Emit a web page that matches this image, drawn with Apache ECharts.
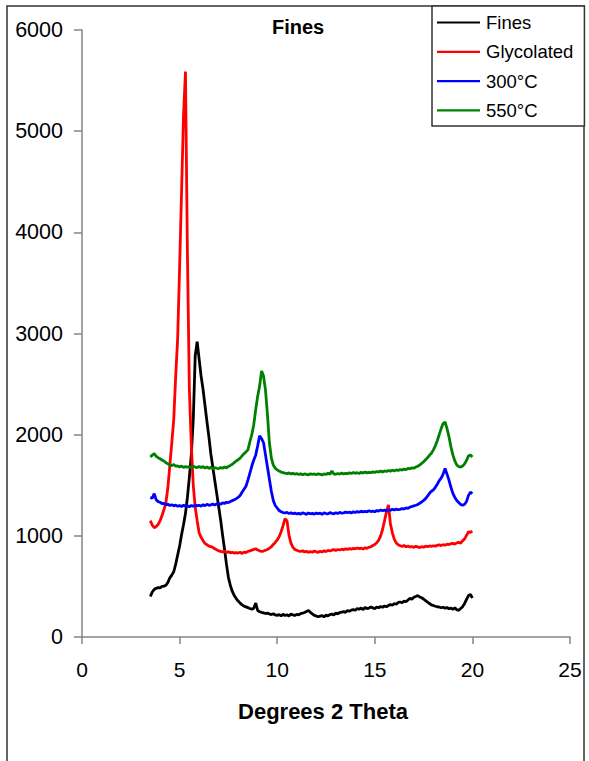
<!DOCTYPE html>
<html>
<head>
<meta charset="utf-8">
<script src="https://cdn.jsdelivr.net/npm/echarts@6/dist/echarts.min.js"></script>
<style>
  html, body { margin: 0; padding: 0; background: #fff; }
  #chart { width: 589px; height: 761px; }
</style>
</head>
<body>
<div id="chart"></div>
<script>
// Diffraction scan, degrees 2-theta (0.1 step)
const twoTheta = [
  3.5, 3.6, 3.7, 3.8, 3.9,
  4.0, 4.1, 4.2, 4.3, 4.4, 4.5, 4.6, 4.7, 4.8, 4.9,
  5.0, 5.1, 5.2, 5.3, 5.4, 5.5, 5.6, 5.7, 5.8, 5.9,
  6.0, 6.1, 6.2, 6.3, 6.4, 6.5, 6.6, 6.7, 6.8, 6.9,
  7.0, 7.1, 7.2, 7.3, 7.4, 7.5, 7.6, 7.7, 7.8, 7.9,
  8.0, 8.1, 8.2, 8.3, 8.4, 8.5, 8.6, 8.7, 8.8, 8.9,
  9.0, 9.1, 9.2, 9.3, 9.4, 9.5, 9.6, 9.7, 9.8, 9.9,
  10.0, 10.1, 10.2, 10.3, 10.4, 10.5, 10.6, 10.7, 10.8, 10.9,
  11.0, 11.1, 11.2, 11.3, 11.4, 11.5, 11.6, 11.7, 11.8, 11.9,
  12.0, 12.1, 12.2, 12.3, 12.4, 12.5, 12.6, 12.7, 12.8, 12.9,
  13.0, 13.1, 13.2, 13.3, 13.4, 13.5, 13.6, 13.7, 13.8, 13.9,
  14.0, 14.1, 14.2, 14.3, 14.4, 14.5, 14.6, 14.7, 14.8, 14.9,
  15.0, 15.1, 15.2, 15.3, 15.4, 15.5, 15.6, 15.7, 15.8, 15.9,
  16.0, 16.1, 16.2, 16.3, 16.4, 16.5, 16.6, 16.7, 16.8, 16.9,
  17.0, 17.1, 17.2, 17.3, 17.4, 17.5, 17.6, 17.7, 17.8, 17.9,
  18.0, 18.1, 18.2, 18.3, 18.4, 18.5, 18.6, 18.7, 18.8, 18.9,
  19.0, 19.1, 19.2, 19.3, 19.4, 19.5, 19.6, 19.7, 19.8, 19.9,
  20.0
];

const fines = [
  400, 445, 470, 482, 488,
  486, 500, 503, 512, 540, 585, 612, 645, 720, 810,
  900, 1010, 1110, 1220, 1380, 1580, 1800, 2150, 2780, 2920,
  2750, 2580, 2450, 2290, 2130, 1980, 1810, 1680, 1550, 1420,
  1290, 1160, 1010, 870, 720, 590, 510, 450, 410, 380,
  355, 335, 318, 305, 298, 290, 282, 275, 285, 335,
  262, 250, 243, 238, 232, 236, 228, 222, 230, 218,
  214, 222, 209, 224, 213, 220, 208, 226, 219, 212,
  224, 218, 232, 236, 242, 252, 262, 244, 228, 214,
  208, 200, 206, 212, 199, 216, 209, 221, 226, 218,
  236, 229, 242, 246, 251, 244, 262, 254, 266, 271,
  264, 282, 274, 287, 270, 292, 281, 286, 296, 288,
  281, 297, 289, 302, 294, 306, 299, 312, 322, 314,
  331, 324, 342, 346, 338, 356, 349, 366, 382, 374,
  392, 401, 410, 396, 388, 374, 360, 344, 331, 318,
  311, 304, 299, 296, 289, 294, 284, 291, 279, 286,
  274, 289, 270, 264, 281, 300, 332, 372, 410, 420,
  385
];

const glycolated = [
  1150, 1105, 1080, 1092, 1112,
  1150, 1200, 1260, 1330, 1480, 1700, 1920, 2150, 2580, 2950,
  3650, 4400, 5150, 5590, 3800, 2450, 1900, 1500, 1280, 1150,
  1030, 985, 955, 925, 912, 898, 893, 886, 872, 862,
  851, 846, 840, 848, 836, 842, 832, 838, 829, 835,
  830, 838, 826, 840, 834, 846, 852, 858, 866, 872,
  860, 852, 846, 850, 858, 865, 878, 892, 915, 935,
  960, 990, 1040, 1100, 1170, 1150, 1010, 930, 888, 866,
  858, 850, 846, 852, 840, 848, 836, 845, 838, 850,
  842, 836, 848, 840, 852, 844, 856, 850, 858, 864,
  856, 865, 860, 868, 862, 871, 866, 874, 868, 876,
  872, 880, 874, 878, 870, 882, 876, 888, 892, 904,
  915, 932, 958, 1000, 1065, 1150, 1240, 1305, 1120, 1030,
  965, 930, 912, 902, 896, 904, 892, 898, 890, 894,
  886, 896, 890, 884, 893, 888, 898, 892, 900, 896,
  902, 898, 906, 910, 904, 912, 908, 918, 914, 922,
  926, 918, 930, 936, 928, 952, 970, 1005, 1040, 1035,
  1045
];

const heated300 = [
  1380, 1372, 1418, 1356, 1338,
  1332, 1318, 1322, 1306, 1312, 1300, 1308, 1296, 1304, 1292,
  1300, 1290, 1302, 1294, 1298, 1288, 1300, 1292, 1305, 1296,
  1302, 1294, 1308, 1298, 1312, 1302, 1306, 1314, 1304, 1316,
  1320, 1312, 1326, 1320, 1332, 1328, 1340, 1348, 1356, 1368,
  1380, 1398, 1430, 1460, 1490, 1550, 1620, 1690, 1750, 1800,
  1890, 1990, 1960, 1920, 1800, 1680, 1560, 1440, 1350, 1300,
  1275, 1250, 1238, 1230, 1226, 1232, 1220, 1228, 1218, 1226,
  1216, 1224, 1214, 1228, 1220, 1212, 1226, 1218, 1222, 1214,
  1226, 1218, 1224, 1212, 1228, 1220, 1216, 1230, 1222, 1218,
  1228, 1220, 1232, 1224, 1226, 1236, 1228, 1234, 1226, 1238,
  1230, 1240, 1234, 1244, 1236, 1242, 1238, 1248, 1240, 1244,
  1238, 1250, 1244, 1256, 1248, 1254, 1250, 1258, 1252, 1262,
  1256, 1264, 1258, 1262, 1270, 1266, 1276, 1272, 1284, 1290,
  1296, 1302, 1310, 1322, 1334, 1350, 1368, 1392, 1420, 1440,
  1455, 1480, 1510, 1545, 1570, 1610, 1665, 1610, 1550, 1480,
  1420, 1380, 1350, 1330, 1310, 1302, 1312, 1340, 1400, 1432,
  1418
];

const heated550 = [
  1780, 1798, 1812, 1786, 1772,
  1762, 1748, 1740, 1722, 1712, 1700, 1694, 1706, 1688, 1692,
  1680, 1690, 1676, 1686, 1678, 1684, 1672, 1688, 1680, 1674,
  1686, 1676, 1684, 1670, 1682, 1666, 1678, 1662, 1674, 1668,
  1664, 1676, 1668, 1680, 1672, 1686, 1696, 1708, 1724, 1740,
  1752, 1768, 1790, 1812, 1830, 1850, 1930, 2000, 2100, 2250,
  2380, 2480, 2630, 2580, 2440, 2200, 1920, 1770, 1700, 1668,
  1652, 1640, 1630, 1624, 1620, 1614, 1622, 1612, 1618, 1608,
  1616, 1606, 1614, 1604, 1612, 1608, 1602, 1614, 1606, 1612,
  1604, 1614, 1608, 1602, 1612, 1606, 1618, 1610, 1640, 1612,
  1608, 1616, 1610, 1620, 1612, 1618, 1614, 1622, 1616, 1626,
  1618, 1624, 1616, 1628, 1620, 1630, 1622, 1628, 1624, 1634,
  1626, 1636, 1630, 1640, 1632, 1642, 1636, 1646, 1640, 1648,
  1642, 1652, 1646, 1656, 1650, 1660, 1654, 1666, 1662, 1672,
  1668, 1680, 1688, 1700, 1716, 1732, 1752, 1772, 1796, 1816,
  1850, 1890, 1940, 2000, 2060, 2110, 2125, 2060, 1980, 1880,
  1800, 1740, 1700, 1684, 1680, 1690, 1712, 1745, 1790, 1800,
  1780
];

const seriesNames = ['Fines', 'Glycolated', '300°C', '550°C'];
const seriesValues = [fines, glycolated, heated300, heated550];
const seriesColors = ['#000000', '#ff0000', '#0000ff', '#008000'];

const xTicks = { min: 0, max: 25, step: 5 };
const yTicks = { min: 0, max: 6000, step: 1000 };

const chart = echarts.init(document.getElementById('chart'), null, { renderer: 'svg' });

const axisGray = '#858585';
const font = 'Liberation Sans, Arial, sans-serif';

chart.setOption({
  animation: false,
  backgroundColor: '#ffffff',
  title: {
    text: 'Fines',
    left: 272,
    top: 17,
    padding: 0,
    textStyle: { fontFamily: font, fontSize: 20, fontWeight: 'bold', color: '#000' }
  },
  legend: {
    orient: 'vertical',
    left: 432,
    top: 6,
    padding: [7, 11, 6, 5],
    itemGap: 10.3,
    itemWidth: 43,
    itemHeight: 19,
    // plain line sample, no marker
    icon: 'path://M0,0 L43,0 L43,2.2 L0,2.2 Z',
    borderColor: '#333',
    borderWidth: 1.5,
    backgroundColor: '#fff',
    textStyle: { fontFamily: font, fontSize: 18.5, color: '#000', padding: [0, 0, 0, 1] },
    data: seriesNames
  },
  grid: { left: 82, right: 19, top: 30, bottom: 124, containLabel: false },
  xAxis: {
    type: 'value',
    min: xTicks.min,
    max: xTicks.max,
    interval: xTicks.step,
    name: 'Degrees 2 Theta',
    nameLocation: 'middle',
    nameGap: 63,
    nameTextStyle: { fontFamily: font, fontSize: 22, fontWeight: 'bold', color: '#000', padding: [0, 6, 0, 0] },
    axisLine: { lineStyle: { color: axisGray, width: 1.5 } },
    axisTick: { inside: false, length: 7, lineStyle: { color: axisGray, width: 1.5 } },
    axisLabel: { fontFamily: font, fontSize: 21, color: '#000', margin: 22, formatter: v => String(v) },
    splitLine: { show: false }
  },
  yAxis: {
    type: 'value',
    min: yTicks.min,
    max: yTicks.max,
    interval: yTicks.step,
    axisLine: { show: true, lineStyle: { color: axisGray, width: 1.5 } },
    axisTick: { show: true, inside: false, length: 8, lineStyle: { color: axisGray, width: 1.5 } },
    axisLabel: { fontFamily: font, fontSize: 21.5, color: '#000', margin: 19, formatter: v => String(v) },
    splitLine: { show: false }
  },
  graphic: [{
    type: 'rect',
    silent: true,
    z: -1,
    shape: { x: 7, y: 6, width: 577, height: 820 },
    style: { fill: 'none', stroke: '#333', lineWidth: 1.5 }
  }],
  series: seriesNames.map((name, i) => ({
    name: name,
    type: 'line',
    symbol: 'none',
    showSymbol: false,
    smooth: false,
    lineStyle: { color: seriesColors[i], width: 2.8 },
    itemStyle: { color: seriesColors[i] },
    data: twoTheta.map((t, k) => [t, seriesValues[i][k]])
  }))
});
</script>
</body>
</html>
